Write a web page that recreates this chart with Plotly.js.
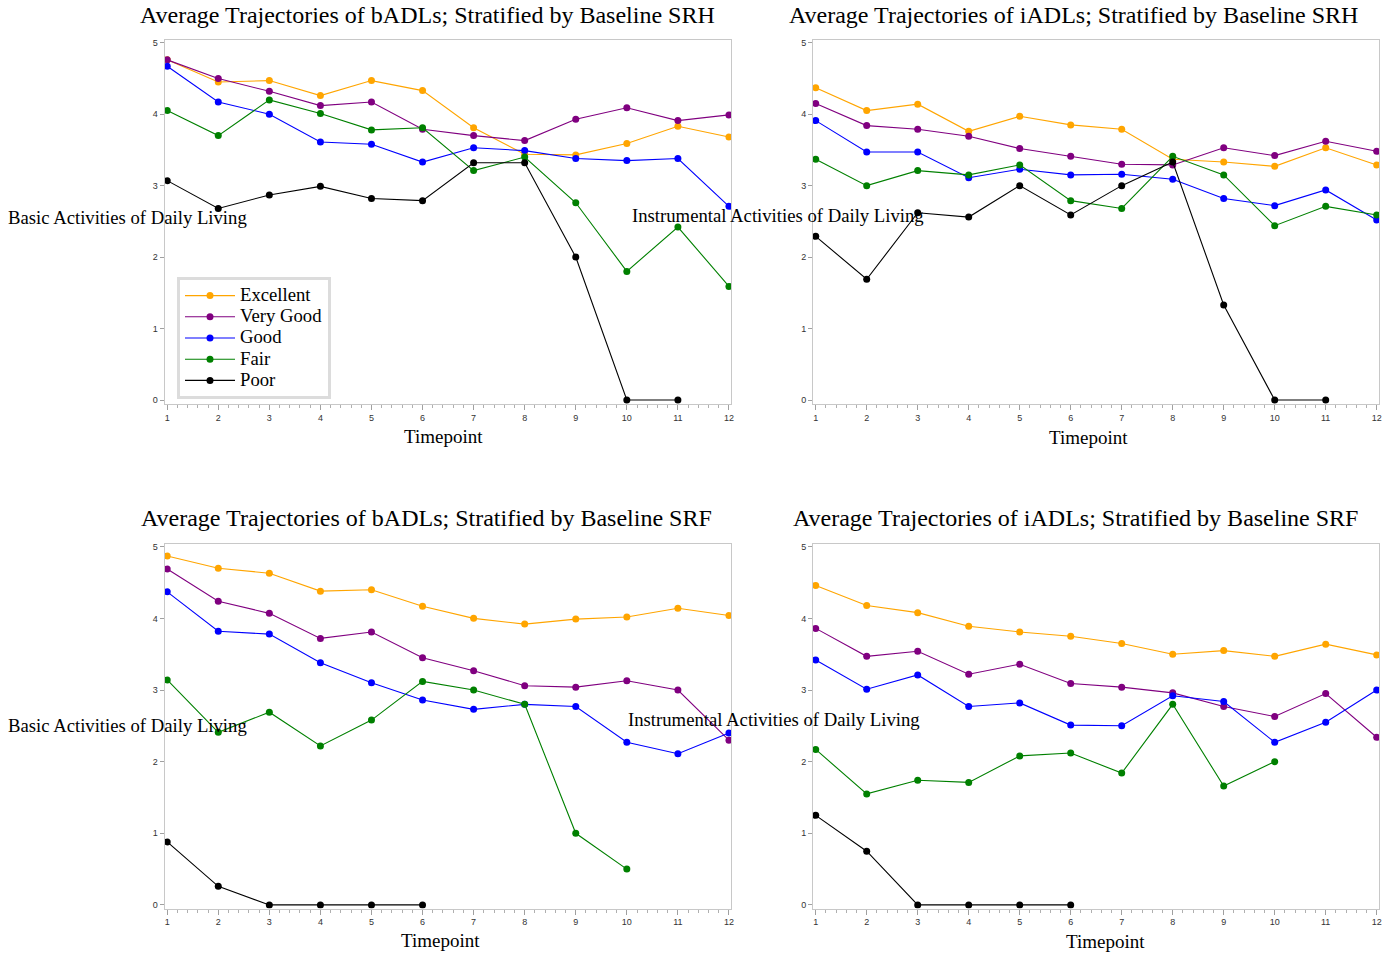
<!DOCTYPE html>
<html>
<head>
<meta charset="utf-8">
<script src="https://cdn.plot.ly/plotly-3.0.1.min.js"></script>
<style>html,body{margin:0;padding:0;background:#fff;}#chart{width:1393px;height:953px;}</style>
</head>
<body>
<div id="chart"></div>
<script>
// ---- DATA ----
const timepoints = [1,2,3,4,5,6,7,8,9,10,11,12];
const groups = ["Excellent","Very Good","Good","Fair","Poor"];
const groupColors = ["#FFA500","#800080","#0000FF","#008000","#000000"];

// Panel 1: bADLs by baseline SRH
const badlSrhExcellent = [4.76,4.45,4.47,4.26,4.47,4.33,3.81,3.44,3.43,3.59,3.83,3.68];
const badlSrhVeryGood  = [4.76,4.50,4.32,4.12,4.17,3.79,3.70,3.63,3.93,4.09,3.91,3.99];
const badlSrhGood      = [4.67,4.17,4.00,3.61,3.58,3.33,3.53,3.49,3.38,3.35,3.38,2.71];
const badlSrhFair      = [4.05,3.70,4.20,4.01,3.78,3.81,3.21,3.40,2.76,1.80,2.42,1.59];
const badlSrhPoor      = [3.07,2.68,2.87,2.99,2.82,2.79,3.32,3.32,2.00,0,0,null];

// Panel 2: iADLs by baseline SRH
const iadlSrhExcellent = [4.37,4.05,4.14,3.76,3.97,3.85,3.79,3.37,3.33,3.27,3.53,3.29];
const iadlSrhVeryGood  = [4.15,3.84,3.79,3.69,3.52,3.41,3.30,3.29,3.53,3.42,3.62,3.48];
const iadlSrhGood      = [3.91,3.47,3.47,3.11,3.23,3.15,3.16,3.09,2.82,2.72,2.94,2.52];
const iadlSrhFair      = [3.37,3.00,3.21,3.15,3.29,2.79,2.68,3.41,3.15,2.44,2.71,2.59];
const iadlSrhPoor      = [2.29,1.69,2.62,2.56,3.00,2.59,3.00,3.33,1.33,0,0,null];

// Panel 3: bADLs by baseline SRF
const badlSrfExcellent = [4.87,4.70,4.63,4.38,4.40,4.17,4.00,3.92,3.99,4.02,4.14,4.04];
const badlSrfVeryGood  = [4.69,4.24,4.07,3.72,3.81,3.45,3.27,3.06,3.04,3.13,3.00,2.30];
const badlSrfGood      = [4.37,3.82,3.78,3.38,3.10,2.86,2.73,2.80,2.77,2.27,2.11,2.40];
const badlSrfFair      = [3.14,2.41,2.69,2.22,2.58,3.12,3.00,2.80,1.00,0.50,null,null];
const badlSrfPoor      = [0.88,0.26,0,0,0,0,null,null,null,null,null,null];

// Panel 4: iADLs by baseline SRF
const iadlSrfExcellent = [4.46,4.18,4.08,3.89,3.81,3.75,3.65,3.50,3.55,3.47,3.64,3.49];
const iadlSrfVeryGood  = [3.86,3.47,3.54,3.22,3.36,3.09,3.04,2.96,2.77,2.63,2.95,2.34];
const iadlSrfGood      = [3.42,3.01,3.21,2.77,2.82,2.51,2.50,2.92,2.84,2.27,2.55,3.00];
const iadlSrfFair      = [2.17,1.55,1.74,1.71,2.08,2.12,1.84,2.80,1.66,2.00,null,null];
const iadlSrfPoor      = [1.25,0.75,0,0,0,0,null,null,null,null,null,null];

const panelTitles = [
  "Average Trajectories of bADLs; Stratified by Baseline SRH",
  "Average Trajectories of iADLs; Stratified by Baseline SRH",
  "Average Trajectories of bADLs; Stratified by Baseline SRF",
  "Average Trajectories of iADLs; Stratified by Baseline SRF"
];
const yLabels = ["Basic Activities of Daily Living","Instrumental Activities of Daily Living",
                 "Basic Activities of Daily Living","Instrumental Activities of Daily Living"];
const xLabel = "Timepoint";
const yTicks = [0,1,2,3,4,5];
const xTicks = timepoints;

const panels = [
  [badlSrhExcellent,badlSrhVeryGood,badlSrhGood,badlSrhFair,badlSrhPoor],
  [iadlSrhExcellent,iadlSrhVeryGood,iadlSrhGood,iadlSrhFair,iadlSrhPoor],
  [badlSrfExcellent,badlSrfVeryGood,badlSrfGood,badlSrfFair,badlSrfPoor],
  [iadlSrfExcellent,iadlSrfVeryGood,iadlSrfGood,iadlSrfFair,iadlSrfPoor]
];

// ---- LAYOUT ----
const W = 1393, H = 953;
const px = v => v / W;
const py = v => 1 - v / H;
const serif = "Liberation Serif, Times New Roman, serif";
const sans = "Liberation Sans, Arial, sans-serif";

const xDomains = [[px(164.5),px(731)],[px(813),px(1379)],[px(164.5),px(731)],[px(813),px(1379)]];
const yDomains = [[py(404),py(40)],[py(404),py(40)],[py(908.5),py(544)],[py(908.5),py(544)]];
const yRanges = [[-0.056,5.038],[-0.056,5.038],[-0.05,5.038],[-0.05,5.038]];
const xRanges = [[0.947,12.04],[0.947,12.045],[0.947,12.04],[0.947,12.045]];

const traces = [];
panels.forEach((series, p) => {
  const ax = p === 0 ? "" : String(p + 1);
  series.forEach((vals, g) => {
    traces.push({
      type: "scatter", mode: "lines+markers",
      x: timepoints, y: vals,
      name: "<span style='font-size:18.7px'>" + groups[g] + "</span>",
      xaxis: "x" + ax, yaxis: "y" + ax,
      showlegend: p === 0, legendgroup: groups[g],
      connectgaps: false,
      line: {color: groupColors[g], width: 1.1},
      marker: {color: groupColors[g], size: 7, symbol: "circle"},
      hoverinfo: "skip"
    });
  });
});

const layout = {
  width: W, height: H,
  margin: {l: 0, r: 0, t: 0, b: 0},
  paper_bgcolor: "#fff", plot_bgcolor: "#fff",
  showlegend: true,
  legend: {
    x: px(177), y: py(277), xanchor: "left", yanchor: "top",
    bgcolor: "#fff", bordercolor: "#dcdcdc", borderwidth: 3,
    font: {family: serif, size: 14, color: "#000"},
    tracegroupgap: 0, itemwidth: 50
  },
  annotations: []
};

const titleCenters = [[428,15],[1073,15],[426,518],[1075,518]];
const yLabelPos = [[6,218],[630,215],[6,725],[626,719]];
const xLabelPos = [[444,437],[1088,438],[440,940],[1105,941]];

for (let p = 0; p < 4; p++) {
  const ax = p === 0 ? "" : String(p + 1);
  const common = {
    showline: true, mirror: true, linecolor: "#c8c8c8", linewidth: 1,
    showgrid: false, zeroline: false,
    ticks: "outside", tickcolor: "#a0a0a0", ticklen: 4, tickwidth: 1,
    tickfont: {family: sans, size: 9, color: "#333"}
  };
  layout["xaxis" + ax] = Object.assign({}, common, {
    domain: xDomains[p], range: xRanges[p], anchor: "y" + ax,
    tickmode: "array", tickvals: xTicks, ticktext: xTicks.map(String),
    ticklen: 5,
    minor: {dtick: 0.2, tick0: 1, ticks: "outside", ticklen: 3, tickcolor: "#b0b0b0", showgrid: false}
  });
  layout["yaxis" + ax] = Object.assign({}, common, {
    domain: yDomains[p], range: yRanges[p], anchor: "x" + ax,
    tickmode: "array", tickvals: yTicks, ticktext: yTicks.map(String)
  });
  layout.annotations.push({
    text: panelTitles[p], xref: "paper", yref: "paper",
    x: px(titleCenters[p][0]), y: py(titleCenters[p][1]),
    xanchor: "center", yanchor: "middle", showarrow: false,
    font: {family: serif, size: 24, color: "#000"}
  });
  layout.annotations.push({
    text: yLabels[p], xref: "paper", yref: "paper",
    x: px(yLabelPos[p][0]), y: py(yLabelPos[p][1]),
    xanchor: "left", yanchor: "middle", showarrow: false,
    font: {family: serif, size: 18.7, color: "#000"}
  });
  layout.annotations.push({
    text: xLabel, xref: "paper", yref: "paper",
    x: px(xLabelPos[p][0]), y: py(xLabelPos[p][1]),
    xanchor: "center", yanchor: "middle", showarrow: false,
    font: {family: serif, size: 19, color: "#000"}
  });
}

Plotly.newPlot("chart", traces, layout, {displayModeBar: false, staticPlot: true});
</script>
</body>
</html>
